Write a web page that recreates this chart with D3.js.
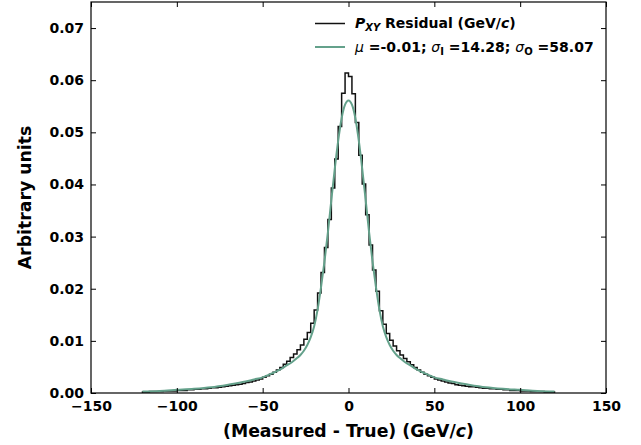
<!DOCTYPE html>
<html>
<head>
<meta charset="utf-8">
<script src="https://d3js.org/d3.v7.min.js"></script>
<style>
  body { margin: 0; background: #fff; }
  text { font-family: 'DejaVu Sans', sans-serif; font-weight: bold; }
</style>
</head>
<body>
<div id="chart"></div>
<script>
// histogram: bins of width 2 from -120 to 120
var binStart = -120
var binWidth = 2
var histValues = [
  0.0002, 0.0002, 0.0003, 0.0003, 0.0003, 0.0003, 0.0004, 0.0004, 0.0004, 0.0004,
  0.0005, 0.0005, 0.0005, 0.0006, 0.0006, 0.0007, 0.0007, 0.0008, 0.0008, 0.0009,
  0.0010, 0.0010, 0.0011, 0.0012, 0.0013, 0.0014, 0.0015, 0.0016, 0.0017, 0.0018,
  0.0020, 0.0021, 0.0023, 0.0025, 0.0027, 0.0030, 0.0033, 0.0036, 0.0040, 0.0044,
  0.0049, 0.0055, 0.0061, 0.0068, 0.0075, 0.0083, 0.0092, 0.0103, 0.0116, 0.0134,
  0.0159, 0.0192, 0.0231, 0.0279, 0.0333, 0.0393, 0.0449, 0.0511, 0.0575, 0.0614,
  0.0607, 0.0574, 0.0519, 0.0456, 0.0401, 0.0342, 0.0284, 0.0236, 0.0195, 0.0158,
  0.0132, 0.0114, 0.0101, 0.0090, 0.0081, 0.0073, 0.0066, 0.0060, 0.0054, 0.0049,
  0.0044, 0.0040, 0.0036, 0.0033, 0.0030, 0.0027, 0.0025, 0.0023, 0.0021, 0.0019,
  0.0018, 0.0016, 0.0015, 0.0014, 0.0013, 0.0012, 0.0012, 0.0011, 0.0010, 0.0009,
  0.0009, 0.0008, 0.0008, 0.0007, 0.0007, 0.0006, 0.0006, 0.0005, 0.0005, 0.0005,
  0.0004, 0.0004, 0.0004, 0.0003, 0.0003, 0.0003, 0.0003, 0.0002, 0.0002, 0.0002
]

// fitted curve
var fitX = [-120, -110, -100, -90, -80, -70, -60, -55, -50, -45, -40, -36, -33, -30, -28, -26, -24, -22, -20, -18, -16, -14, -12, -10, -8, -6, -4, -2, 0,
  2, 4, 6, 8, 10, 12, 14, 16, 18, 20, 22, 24, 26, 28, 30, 33, 36, 40, 45, 50, 55, 60, 70, 80, 90, 100, 110, 120]
var fitY = [0.0003, 0.0004, 0.0006, 0.0008, 0.0011, 0.0016, 0.0022, 0.0026, 0.0030, 0.0037, 0.0045, 0.0053, 0.0059, 0.0067, 0.0073, 0.0081, 0.0092, 0.0107, 0.0128, 0.0160, 0.0203, 0.0252, 0.0308, 0.0370, 0.0430, 0.0484, 0.0527, 0.0553, 0.0561,
  0.0553, 0.0527, 0.0484, 0.0430, 0.0370, 0.0308, 0.0252, 0.0203, 0.0160, 0.0128, 0.0107, 0.0092, 0.0081, 0.0073, 0.0067, 0.0059, 0.0053, 0.0045, 0.0037, 0.0030, 0.0026, 0.0022, 0.0016, 0.0011, 0.0008, 0.0006, 0.0004, 0.0003]

var xTicks = [-150, -100, -50, 0, 50, 100, 150]
var yTicks = [0, 0.01, 0.02, 0.03, 0.04, 0.05, 0.06, 0.07]

var fitColor = '#64a18b'

var margin = { top: 2, left: 91, right: 35, bottom: 52 }
var width = 641 - margin.left - margin.right
var height = 445 - margin.top - margin.bottom

var svg = d3
  .select('#chart')
  .append('svg')
  .attr('width', width + margin.left + margin.right)
  .attr('height', height + margin.top + margin.bottom)
  .append('g')
  .attr('transform', 'translate(' + margin.left + ',' + margin.top + ')')

var xScale = d3.scaleLinear().domain([-150, 150]).range([0, width])
var yScale = d3.scaleLinear().domain([0, 0.075]).range([height, 0])

// histogram as a step outline
var histPoints = [[binStart, 0]]
histValues.forEach(function(v, i) {
  histPoints.push([binStart + i * binWidth, v])
})
var binEnd = binStart + histValues.length * binWidth
histPoints.push([binEnd, histValues[histValues.length - 1]])
histPoints.push([binEnd, 0])

var stepLine = d3.line()
  .x(d => xScale(d[0]))
  .y(d => yScale(d[1]))
  .curve(d3.curveStepAfter)

svg.append('path')
  .datum(histPoints)
  .attr('d', stepLine)
  .attr('fill', 'none')
  .attr('stroke', '#111')
  .attr('stroke-width', 1.5)

var fitLine = d3.line()
  .x((d, i) => xScale(fitX[i]))
  .y(d => yScale(d))
  .curve(d3.curveMonotoneX)

svg.append('path')
  .datum(fitY)
  .attr('d', fitLine)
  .attr('fill', 'none')
  .attr('stroke', fitColor)
  .attr('stroke-width', 2)

// axes, ticks pointing inward on all sides
function styleAxis(g) {
  g.select('.domain').remove()
  g.selectAll('.tick line').attr('stroke', '#000').attr('stroke-width', 1)
  g.selectAll('text').attr('font-size', 14).attr('fill', '#000')
}

svg.append('g')
  .attr('transform', 'translate(0,' + height + ')')
  .call(d3.axisBottom(xScale).tickValues(xTicks).tickSizeInner(-5).tickSizeOuter(0).tickPadding(8)
    .tickFormat(d => d < 0 ? '\u2212' + Math.abs(d) : d))
  .call(styleAxis)

svg.append('g')
  .call(d3.axisTop(xScale).tickValues(xTicks).tickSizeInner(-5).tickSizeOuter(0).tickFormat(''))
  .call(styleAxis)

svg.append('g')
  .call(d3.axisLeft(yScale).tickValues(yTicks).tickSizeInner(-5).tickSizeOuter(0).tickPadding(7)
    .tickFormat(d3.format('.2f')))
  .call(styleAxis)

svg.append('g')
  .attr('transform', 'translate(' + width + ',0)')
  .call(d3.axisRight(yScale).tickValues(yTicks).tickSizeInner(-5).tickSizeOuter(0).tickFormat(''))
  .call(styleAxis)

svg.append('rect')
  .attr('width', width)
  .attr('height', height)
  .attr('fill', 'none')
  .attr('stroke', '#000')
  .attr('stroke-width', 1.2)

// axis titles
svg.append('text')
  .attr('x', width / 2)
  .attr('y', height + 44)
  .attr('text-anchor', 'middle')
  .attr('font-size', 17.3)
  .html('(Measured - True) (GeV/<tspan font-style="italic">c</tspan>)')

svg.append('text')
  .attr('transform', 'translate(' + (-margin.left + 31) + ',' + (height / 2) + ') rotate(-90)')
  .attr('text-anchor', 'middle')
  .attr('font-size', 17.3)
  .text('Arbitrary units')

// legend
var legend = svg.append('g').attr('transform', 'translate(224,0)')

legend.append('line')
  .attr('x1', 0).attr('x2', 30).attr('y1', 21.5).attr('y2', 21.5)
  .attr('stroke', '#111').attr('stroke-width', 1.5)
legend.append('line')
  .attr('x1', 0).attr('x2', 30).attr('y1', 45).attr('y2', 45)
  .attr('stroke', fitColor).attr('stroke-width', 2)

legend.append('text')
  .attr('x', 40).attr('y', 26)
  .attr('font-size', 14)
  .html('<tspan font-style="italic">P</tspan><tspan font-style="italic" font-size="10" dy="3">XY</tspan>' +
    '<tspan dy="-3"> Residual (GeV/</tspan><tspan font-style="italic">c</tspan>)')

legend.append('text')
  .attr('x', 40).attr('y', 49.5)
  .attr('font-size', 14)
  .html('<tspan font-style="italic" font-weight="normal">\u03bc</tspan> =-0.01; ' +
    '<tspan font-style="italic" font-weight="normal">\u03c3</tspan><tspan font-size="10" dy="3">I</tspan><tspan dy="-3"> =14.28; </tspan>' +
    '<tspan font-style="italic" font-weight="normal">\u03c3</tspan><tspan font-size="10" dy="3">O</tspan><tspan dy="-3"> =58.07</tspan>')
</script>
</body>
</html>
